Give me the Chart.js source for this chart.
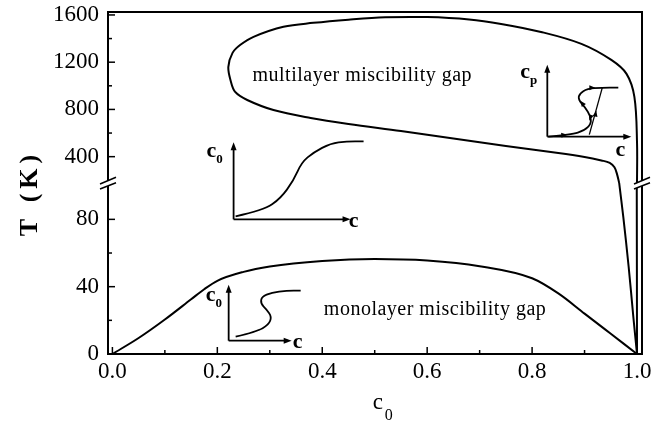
<!DOCTYPE html>
<html>
<head>
<meta charset="utf-8">
<script src="https://cdn.jsdelivr.net/npm/chart.js@4.4.1/dist/chart.umd.min.js"></script>
<style>
  html, body { margin: 0; padding: 0; background: #fff; }
</style>
</head>
<body>
<canvas id="chart" width="651" height="430"></canvas>
<script>
// monolayer miscibility gap, T (K) vs c0
const monoC = [0, 0.05, 0.1, 0.15, 0.175, 0.2, 0.25, 0.3, 0.4, 0.5, 0.6, 0.7, 0.8, 0.85, 0.9, 0.95, 1.0];
const monoT = [0, 9.5, 20.5, 32.5, 38.5, 43.5, 48.8, 52, 55.3, 56.5, 55.6, 52.2, 45, 36, 24, 12, 0];

// multilayer gap above the axis break: lower branch -> nose -> upper branch
const multiHiC = [0.966, 0.962, 0.957, 0.948, 0.932, 0.9, 0.85, 0.75, 0.65, 0.55, 0.45, 0.378, 0.307, 0.257, 0.234, 0.225, 0.221, 0.229, 0.244, 0.269, 0.326, 0.383, 0.45, 0.52, 0.6, 0.68, 0.741, 0.817, 0.894, 0.951, 0.98, 0.995, 1.0, 1.0];
const multiHiT = [177, 250, 310, 348, 368, 397, 431, 490, 553, 617, 677, 728, 795, 880, 948, 1050, 1160, 1279, 1347, 1415, 1500, 1533, 1560, 1580, 1582, 1562, 1524, 1456, 1355, 1219, 1101, 906, 520, 177];

// multilayer gap below the break, both branches closing at c0 = 1
const multiLoAC = [0.966, 0.974, 0.984, 0.993, 1.0];
const multiLoAT = [101.6, 81, 52, 22, 0];
const multiLoBC = [0.9995, 1.0];
const multiLoBT = [101.6, 0];

// ticks
const xTicks = [0, 0.2, 0.4, 0.6, 0.8, 1.0];
const xMinor = [0.1, 0.3, 0.5, 0.7, 0.9];
const yLoTicks = [0, 40, 80];
const yLoMinor = [20, 60];
const yUpTicks = [400, 800, 1200, 1600];
const yUpMinor = [600, 1000, 1400];

const serif = "'Liberation Serif', 'Times New Roman', serif";

const toXY = (xs, ys) => xs.map((x, i) => ({ x: x, y: ys[i] }));

const line = (xs, ys, axis, extra) => Object.assign({
    data: toXY(xs, ys),
    yAxisID: axis,
    showLine: true,
    borderColor: '#000',
    borderWidth: 2,
    pointRadius: 0,
    tension: 0.35
}, extra);

// fixed tick lists and no automatic edge padding on every scale
const fixTicks = list => scale => { scale.ticks = list.map(v => ({ value: v })); };
const noPad = size => scale => {
    if (scale.isHorizontal()) scale.height = size; else scale.width = size;
    scale.paddingTop = 0; scale.paddingBottom = 0;
    scale.paddingLeft = 0; scale.paddingRight = 0;
};

const tickFont = { family: serif, size: 23 };

function arrow(ctx, x1, y1, x2, y2) {
    const a = Math.atan2(y2 - y1, x2 - x1), len = 8, w = 3;
    ctx.beginPath();
    ctx.moveTo(x1, y1);
    ctx.lineTo(x2 - 4 * Math.cos(a), y2 - 4 * Math.sin(a));
    ctx.stroke();
    ctx.beginPath();
    ctx.moveTo(x2, y2);
    ctx.lineTo(x2 - len * Math.cos(a) + w * Math.sin(a), y2 - len * Math.sin(a) - w * Math.cos(a));
    ctx.lineTo(x2 - len * Math.cos(a) - w * Math.sin(a), y2 - len * Math.sin(a) + w * Math.cos(a));
    ctx.closePath();
    ctx.fill();
}

function head(ctx, x, y, a) {
    const len = 6, w = 2.5;
    ctx.beginPath();
    ctx.moveTo(x, y);
    ctx.lineTo(x - len * Math.cos(a) + w * Math.sin(a), y - len * Math.sin(a) - w * Math.cos(a));
    ctx.lineTo(x - len * Math.cos(a) - w * Math.sin(a), y - len * Math.sin(a) + w * Math.cos(a));
    ctx.closePath();
    ctx.fill();
}

function smooth(ctx, ox, oy, pts) {
    ctx.beginPath();
    ctx.moveTo(ox + pts[0][0], oy + pts[0][1]);
    for (let i = 1; i < pts.length - 1; i++) {
        const mx = (pts[i][0] + pts[i + 1][0]) / 2, my = (pts[i][1] + pts[i + 1][1]) / 2;
        ctx.quadraticCurveTo(ox + pts[i][0], oy + pts[i][1], ox + mx, oy + my);
    }
    const last = pts[pts.length - 1];
    ctx.lineTo(ox + last[0], oy + last[1]);
    ctx.stroke();
}

function subLabel(ctx, x, y, main, sub) {
    ctx.textAlign = 'left';
    ctx.textBaseline = 'alphabetic';
    ctx.font = `bold 22px ${serif}`;
    ctx.fillText(main, x, y);
    const w = ctx.measureText(main).width;
    ctx.font = `bold 13px ${serif}`;
    ctx.fillText(sub, x + w, y + 6);
}

// small schematic insets, anchored on data positions
const insets = [
    { // c0 vs c sigmoid
        c: 0.231, T: 80, axis: 'yLo', up: 77, right: 117,
        curve: [[2, -3], [30, -9], [47, -21], [60, -39], [68, -57], [80, -67], [97, -76], [113, -78], [130, -78]],
        yLab: ['c', '0', -27, -62], xLab: [120, 7]
    },
    { // monolayer, folded S
        c: 0.2216, T: 7.9, axis: 'yLo', up: 56, right: 63,
        curve: [[7, -4], [28, -9], [40, -16], [43, -24], [38, -31], [32, -37], [33, -44], [43, -48], [58, -50], [72, -50]],
        yLab: ['c', '0', -23, -40], xLab: [69, 7]
    },
    { // cp vs c with hysteresis
        c: 0.829, T: 569.5, axis: 'yUp', up: 72, right: 84,
        curve: [[1, 0], [24, -2], [37, -6], [44, -13], [43, -21], [38, -29], [31, -37], [32, -43], [40, -48], [54, -49], [71, -49]],
        jump: [[55, -49], [42, -2]],
        yLab: ['c', 'p', -27, -59], xLab: [73, 19]
    }
];

const annotations = [
    { text: 'multilayer miscibility gap', c: 0.267, T: 1041, axis: 'yUp' },
    { text: 'monolayer miscibility gap', c: 0.403, T: 23.2, axis: 'yLo' }
];

const framePlugin = {
    id: 'frame',
    afterDatasetsDraw(chart) {
        const { ctx, chartArea: a, scales } = chart;
        const L = a.left, R = a.right, T = a.top, B = a.bottom;
        const by = scales.yUp.bottom;
        ctx.save();
        ctx.strokeStyle = '#000';
        ctx.fillStyle = '#000';
        ctx.lineWidth = 2;
        ctx.lineCap = 'square';
        ctx.beginPath();
        ctx.moveTo(L, T); ctx.lineTo(R, T); ctx.lineTo(R, B); ctx.lineTo(L, B); ctx.closePath();
        ctx.stroke();
        ctx.lineCap = 'butt';

        // inward tick marks
        const sets = [
            { s: scales.x, major: xTicks, minor: xMinor },
            { s: scales.yLo, major: yLoTicks, minor: yLoMinor },
            { s: scales.yUp, major: yUpTicks, minor: yUpMinor }
        ];
        ctx.lineWidth = 1.5;
        sets.forEach(({ s, major, minor }) => {
            [[major, 7], [minor, 4]].forEach(([vals, len]) => {
                vals.forEach(v => {
                    const p = s.getPixelForValue(v);
                    ctx.beginPath();
                    if (s.isHorizontal()) { ctx.moveTo(p, B); ctx.lineTo(p, B - len); }
                    else { ctx.moveTo(L, p); ctx.lineTo(L + len, p); }
                    ctx.stroke();
                });
            });
        });

        // axis breaks on both sides
        [L, R].forEach(x0 => {
            ctx.fillStyle = '#fff';
            ctx.beginPath();
            ctx.moveTo(x0 - 8, by + 1); ctx.lineTo(x0 + 8, by - 5.7);
            ctx.lineTo(x0 + 8, by - 0.3); ctx.lineTo(x0 - 8, by + 6);
            ctx.closePath();
            ctx.fill();
            ctx.lineWidth = 1.5;
            ctx.beginPath();
            ctx.moveTo(x0 - 8, by + 1); ctx.lineTo(x0 + 8, by - 5.7);
            ctx.moveTo(x0 - 8, by + 6); ctx.lineTo(x0 + 8, by - 0.3);
            ctx.stroke();
        });
        ctx.fillStyle = '#000';

        // insets
        insets.forEach(ins => {
            const ox = scales.x.getPixelForValue(ins.c);
            const oy = scales[ins.axis].getPixelForValue(ins.T);
            ctx.lineWidth = 1.8;
            arrow(ctx, ox, oy, ox, oy - ins.up);
            arrow(ctx, ox, oy, ox + ins.right, oy);
            smooth(ctx, ox, oy, ins.curve);
            if (ins.jump) {
                ctx.lineWidth = 1.3;
                ctx.beginPath();
                ctx.moveTo(ox + ins.jump[0][0], oy + ins.jump[0][1]);
                ctx.lineTo(ox + ins.jump[1][0], oy + ins.jump[1][1]);
                ctx.stroke();
                head(ctx, ox + 48, oy - 49, 0);
                head(ctx, ox + 49, oy - 26, -1.35);
                head(ctx, ox + 33, oy - 36, -2.2);
                head(ctx, ox + 42, oy - 16, 1.9);
                head(ctx, ox + 20, oy - 2, -0.1);
            }
            const [m, sub, lx, ly] = ins.yLab;
            subLabel(ctx, ox + lx, oy + ly, m, sub);
            ctx.font = `bold 22px ${serif}`;
            ctx.textAlign = 'center';
            ctx.textBaseline = 'middle';
            ctx.fillText('c', ox + ins.xLab[0], oy + ins.xLab[1] - 5);
        });

        // gap names
        ctx.font = `20px ${serif}`;
        ctx.textAlign = 'left';
        ctx.textBaseline = 'alphabetic';
        ctx.letterSpacing = '0.5px';
        annotations.forEach(t => {
            ctx.fillText(t.text, scales.x.getPixelForValue(t.c), scales[t.axis].getPixelForValue(t.T));
        });

        // axis titles
        ctx.save();
        ctx.translate(30, (T + B) / 2 + 10);
        ctx.rotate(-Math.PI / 2);
        ctx.font = `bold 26px ${serif}`;
        ctx.letterSpacing = '5px';
        ctx.textAlign = 'center';
        ctx.textBaseline = 'middle';
        ctx.fillText('T (K)', 0, 0);
        ctx.restore();

        ctx.letterSpacing = '0px';
        const cx = scales.x.getPixelForValue(0.5);
        ctx.font = `23px ${serif}`;
        ctx.fillText('c', cx - 2, 409);
        ctx.font = `16px ${serif}`;
        ctx.fillText('0', cx + 10, 420);
        ctx.restore();
    }
};

new Chart(document.getElementById('chart'), {
    type: 'scatter',
    data: {
        datasets: [
            line(monoC, monoT, 'yLo', { cubicInterpolationMode: 'monotone' }),
            line(multiHiC, multiHiT, 'yUp'),
            line(multiLoAC, multiLoAT, 'yLo'),
            line(multiLoBC, multiLoBT, 'yLo')
        ]
    },
    options: {
        responsive: false,
        animation: false,
        layout: { padding: { top: 12, right: 9, bottom: 0, left: 0 } },
        plugins: { legend: { display: false }, tooltip: { enabled: false } },
        scales: {
            x: {
                type: 'linear', min: -0.0084, max: 1.0095,
                grid: { display: false, drawTicks: false }, border: { display: false },
                ticks: { font: tickFont, color: '#000', padding: 4, maxRotation: 0, callback: v => v.toFixed(1) },
                afterBuildTicks: fixTicks(xTicks),
                afterFit: noPad(76)
            },
            // lower segment first: the layout stacks it under the upper one
            yLo: {
                type: 'linear', position: 'left', stack: 'T', stackWeight: 1,
                min: 0, max: 101.6,
                grid: { display: false, drawTicks: false }, border: { display: false },
                ticks: { font: tickFont, color: '#000', padding: 9, callback: v => String(v) },
                afterBuildTicks: fixTicks(yLoTicks),
                afterFit: noPad(108)
            },
            yUp: {
                type: 'linear', position: 'left', stack: 'T', stackWeight: 1,
                min: 177, max: 1625,
                grid: { display: false, drawTicks: false }, border: { display: false },
                ticks: { font: tickFont, color: '#000', padding: 9, callback: v => String(v) },
                afterBuildTicks: fixTicks(yUpTicks),
                afterFit: noPad(108)
            }
        }
    },
    plugins: [framePlugin]
});
</script>
</body>
</html>
